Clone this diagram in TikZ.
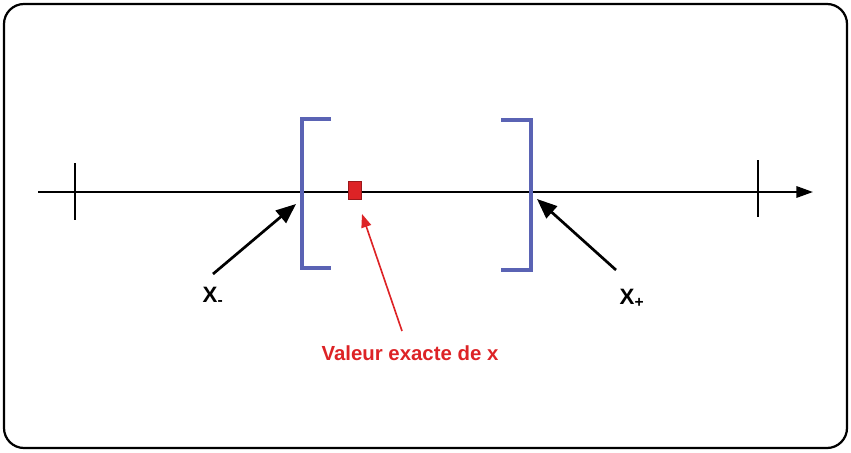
\documentclass[tikz,border=0pt]{standalone}
\usepackage{fontspec}
\setmainfont{Liberation Sans}
\usetikzlibrary{arrows.meta}
\definecolor{bracketblue}{HTML}{5A63B4}
\definecolor{exactred}{HTML}{DD2326}
\tikzset{
  axisline/.style={line width=1.9pt, -{Triangle[length=5mm, width=3.4mm]}},
  tickmark/.style={line width=1.9pt},
  bracket/.style={draw=bracketblue, line width=4.2pt},
  pointer/.style={line width=2.3pt, -{Triangle[length=6mm, width=4.8mm]}},
  redpointer/.style={draw=exactred, line width=1.4pt, -{Triangle[length=4mm, width=3mm]}},
  boundlabel/.style={font=\bfseries\fontsize{19}{21}\selectfont, inner sep=0pt},
  exactlabel/.style={font=\bfseries\fontsize{17.4}{19}\selectfont, text=exactred, inner sep=0pt},
}

\begin{document}
\begin{tikzpicture}[x=0.03cm, y=-0.03cm]
    \useasboundingbox (0,0) rectangle (851,452);
    \draw[line width=1.9pt, rounded corners=0.6cm] (4,4) rectangle (847,448);

    % axis with its two ticks
    \coordinate (start) at (38,192);
    \coordinate (end) at (813,192);
    \draw[axisline] (start) -- (end);
    \draw[tickmark] (75,163) -- (75,220);
    \draw[tickmark] (758,160) -- (758,217);

    % interval [x-, x+]
    \draw[bracket] (331,119) -- (302,119) -- (302,268) -- (331,268);
    \draw[bracket] (501,120) -- (531,120) -- (531,270) -- (501,270);

    % exact value
    \node[draw=exactred!70!black, fill=exactred, minimum width=0.4cm, minimum height=0.55cm,
          inner sep=0pt, line width=0.5pt] (exact) at (355,190) {};

    \node[boundlabel] (xminus) at (213,296) {X\textsubscript{-}};
    \node[boundlabel] (xplus) at (632,298) {X\textsubscript{+}};
    \node[exactlabel] (exactname) at (410,353) {Valeur exacte de x};

    \coordinate (lowtail) at (213,274);
    \coordinate (lowtip) at (296,204);
    \coordinate (uptail) at (616,270);
    \coordinate (uptip) at (537,199);
    \coordinate (redtail) at (402,331);
    \coordinate (redtip) at (362,214);
    \draw[pointer] (lowtail) -- (lowtip);
    \draw[pointer] (uptail) -- (uptip);
    \draw[redpointer] (redtail) -- (redtip);
  \end{tikzpicture}
\end{document}
